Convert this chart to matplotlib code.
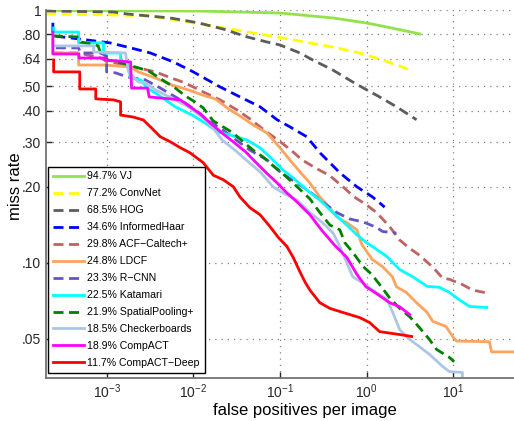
import matplotlib
matplotlib.use("Agg")
import matplotlib.pyplot as plt
from matplotlib.ticker import NullLocator

plt.rcParams['font.family'] = ['Liberation Sans', 'DejaVu Sans']
plt.rcParams['mathtext.fontset'] = 'custom'
plt.rcParams['mathtext.rm'] = 'Liberation Sans'
plt.rcParams['mathtext.it'] = 'Liberation Sans:italic'

# false positives per image / miss rate
vj_fppi = [2e-4, 1e-3, 0.012, 0.1, 0.41, 1.0, 1.7, 4.1]
vj_mr = [0.995, 0.993, 0.99, 0.973, 0.93, 0.888, 0.857, 0.804]

convnet_fppi = [2e-4, 1.45e-3, 3.2e-3, 0.012, 0.042, 0.108, 0.221, 0.452, 0.83, 1.41, 2.59, 3.38]
convnet_mr = [0.964, 0.955, 0.947, 0.88, 0.819, 0.775, 0.741, 0.708, 0.676, 0.640, 0.595, 0.569]

hog_fppi = [2e-4, 1.2e-3, 1.74e-3, 5.4e-3, 0.01, 0.013, 0.022, 0.042, 0.071, 0.1, 0.17,
            0.239, 0.406, 0.69, 1.0, 1.41, 2.21, 3.76]
hog_mr = [0.991, 0.982, 0.964, 0.93, 0.897, 0.88, 0.841, 0.782, 0.747, 0.727, 0.676,
          0.634, 0.579, 0.519, 0.483, 0.453, 0.414, 0.368]

ihaar_fppi = [2.4e-4, 2.4e-4, 3.9e-4, 6e-4, 1.1e-3, 1.9e-3, 3.2e-3, 5.9e-3, 0.01, 0.0204,
              0.0346, 0.0589, 0.0925, 0.13, 0.204, 0.29, 0.49, 0.767, 1.17, 1.61]
ihaar_mr = [0.89, 0.79, 0.775, 0.761, 0.741, 0.708, 0.676, 0.623, 0.569, 0.496,
            0.453, 0.414, 0.368, 0.345, 0.315, 0.272, 0.227, 0.2, 0.182, 0.166]

acf_fppi = [2.4e-4, 4.75e-4, 8.5e-4, 1.03e-3, 1.45e-3, 1.79e-3, 2.33e-3, 3.66e-3, 5.2e-3,
            7.5e-3, 0.01, 0.013, 0.0204, 0.032, 0.045, 0.068, 0.097, 0.134, 0.18, 0.27,
            0.376, 0.53, 0.72, 0.98, 1.30, 1.84, 2.4, 3.13, 4.08, 5.8, 7.5, 9.0, 12.7, 16.6, 24]
acf_mr = [0.676, 0.676, 0.646, 0.623, 0.612, 0.595, 0.59, 0.569, 0.543,
          0.519, 0.496, 0.474, 0.441, 0.402, 0.371, 0.332, 0.304, 0.279, 0.255, 0.235,
          0.221, 0.2, 0.182, 0.17, 0.158, 0.139, 0.123, 0.114, 0.107, 0.096, 0.087, 0.086,
          0.082, 0.078, 0.076]

ldcf_fppi = [2.4e-4, 4.75e-4, 4.75e-4, 9.2e-4, 1.89e-3, 2.33e-3, 3.66e-3, 5.7e-3, 8.8e-3,
             0.0127, 0.0179, 0.0266, 0.0346, 0.049, 0.071, 0.1, 0.13, 0.17, 0.221, 0.288,
             0.376, 0.45, 0.59, 0.77, 0.88, 1.16, 1.52, 1.98, 2.2, 2.87, 3.75, 4.9, 5.8,
             8.2, 10, 10.9, 26, 27.6, 50]
ldcf_mr = [0.676, 0.676, 0.606, 0.606, 0.595, 0.569, 0.538, 0.505, 0.483,
           0.461, 0.445, 0.402, 0.381, 0.351, 0.326, 0.285, 0.255, 0.229, 0.207, 0.182,
           0.165, 0.152, 0.144, 0.135, 0.118, 0.103, 0.0966, 0.088, 0.0804, 0.0763, 0.0695,
           0.064, 0.0586, 0.056, 0.0506, 0.049, 0.0487, 0.0444, 0.0444]

rcnn_fppi = [2.6e-4, 4.75e-4, 5e-4, 8.5e-4, 1e-3, 1e-3, 1.27e-3, 1.74e-3, 2.8e-3, 4.17e-3,
             7.1e-3, 0.0106, 0.0157, 0.022, 0.0346, 0.045, 0.071, 0.1, 0.221, 0.31, 0.45,
             0.64, 0.91, 1.30, 1.52, 2.2]
rcnn_mr = [0.708, 0.708, 0.676, 0.676, 0.658, 0.569, 0.564, 0.543, 0.529, 0.491,
           0.441, 0.402, 0.36, 0.335, 0.298, 0.279, 0.255, 0.229, 0.191, 0.174, 0.158,
           0.149, 0.145, 0.138, 0.133, 0.131]

katamari_fppi = [2.45e-4, 2.45e-4, 4.75e-4, 4.75e-4, 9.2e-4, 9.2e-4, 1.45e-3, 1.45e-3,
                 1.74e-3, 1.89e-3, 2.46e-3, 2.96e-3, 3.96e-3, 6.2e-3, 9.7e-3, 0.0137,
                 0.0194, 0.0266, 0.0415, 0.0588, 0.0767, 0.108, 0.141, 0.204, 0.288, 0.40,
                 0.59, 0.77, 1.0, 1.30, 1.70, 2.40, 3.4, 5.0, 6.9, 9.0, 11.7, 15.3, 24.2]
katamari_mr = [0.849, 0.818, 0.818, 0.741, 0.741, 0.676, 0.676, 0.623,
               0.617, 0.538, 0.529, 0.491, 0.461, 0.414, 0.384, 0.357,
               0.329, 0.320, 0.306, 0.285, 0.262, 0.233, 0.217, 0.194, 0.177, 0.159,
               0.141, 0.129, 0.12, 0.113, 0.106, 0.094, 0.088, 0.0806, 0.080, 0.0763,
               0.0714, 0.0672, 0.0665]

spp_fppi = [2.4e-4, 4.75e-4, 5e-4, 6.9e-4, 8e-4, 8.5e-4, 1.03e-3, 1.34e-3, 2.15e-3, 3.04e-3,
            4.4e-3, 6.2e-3, 8.1e-3, 0.01, 0.013, 0.017, 0.022, 0.0289, 0.0375, 0.049, 0.064,
            0.083, 0.108, 0.157, 0.221, 0.288, 0.376, 0.49, 0.56, 0.69, 0.91, 1.14, 1.41,
            1.84, 2.40, 3.13, 4.08, 5.3, 6.4, 9.0, 10.2]
spp_mr = [0.79, 0.782, 0.747, 0.734, 0.721, 0.676, 0.634, 0.623, 0.595, 0.574,
          0.529, 0.491, 0.457, 0.437, 0.41, 0.364, 0.345, 0.326, 0.301, 0.279, 0.262,
          0.242, 0.225, 0.2, 0.179, 0.158, 0.141, 0.135, 0.12, 0.11, 0.0966, 0.09, 0.082,
          0.0726, 0.066, 0.0612, 0.0553, 0.0497, 0.0454, 0.0422, 0.0406]

checker_fppi = [2.4e-4, 2.4e-4, 7.1e-4, 7.1e-4, 1.65e-3, 1.79e-3, 2.33e-3, 2.8e-3, 3.66e-3,
                4.77e-3, 6.2e-3, 8.8e-3, 0.0127, 0.0165, 0.0215, 0.0302, 0.043, 0.0588,
                0.083, 0.108, 0.157, 0.221, 0.31, 0.41, 0.49, 0.59, 0.69, 0.91, 1.30, 1.70,
                2.0, 2.40, 3.13, 4.08, 5.3, 7.5, 9.0, 12.7, 12.7]
checker_mr = [0.761, 0.721, 0.721, 0.682, 0.676, 0.569, 0.519, 0.515, 0.483,
              0.461, 0.441, 0.414, 0.377, 0.345, 0.306, 0.279, 0.251, 0.229,
              0.2, 0.189, 0.177, 0.158, 0.144, 0.131, 0.116, 0.10, 0.088, 0.083, 0.076,
              0.072, 0.0636, 0.0544, 0.0497, 0.0465, 0.0434, 0.0389, 0.0371, 0.0368, 0.0351]

compact_fppi = [2.4e-4, 2.4e-4, 4.8e-4, 4.8e-4, 9.7e-4, 9.7e-4, 1.89e-3, 1.94e-3, 2.96e-3,
                3.1e-3, 7.1e-3, 9.2e-3, 0.012, 0.0157, 0.0215, 0.0289, 0.040, 0.0518, 0.0676,
                0.090, 0.120, 0.160, 0.221, 0.30, 0.42, 0.59, 0.77, 0.98, 1.30, 1.84, 2.40, 3.13]
compact_mr = [0.818, 0.67, 0.67, 0.646, 0.646, 0.634, 0.623, 0.491, 0.491,
              0.453, 0.441, 0.414, 0.388, 0.357, 0.326, 0.301, 0.275, 0.251, 0.229,
              0.209, 0.189, 0.173, 0.155, 0.135, 0.118, 0.105, 0.090, 0.0804, 0.0755,
              0.0695, 0.067, 0.0624]

deep_fppi = [2.45e-4, 2.45e-4, 4.9e-4, 4.9e-4, 7.5e-4, 7.5e-4, 1.2e-3, 1.45e-3, 1.45e-3,
             2.04e-3, 2.66e-3, 3.2e-3, 4.17e-3, 5.44e-3, 7.1e-3, 9.2e-3, 0.013, 0.017, 0.0222,
             0.0289, 0.0346, 0.0451, 0.0588, 0.0767, 0.0956, 0.12, 0.142, 0.17, 0.194, 0.221,
             0.288, 0.376, 0.53, 0.83, 1.08, 1.41, 2.40, 3.3]
deep_mr = [0.634, 0.569, 0.569, 0.487, 0.487, 0.445, 0.441, 0.433, 0.384,
           0.377, 0.367, 0.345, 0.315, 0.301, 0.285, 0.272, 0.249, 0.222, 0.213,
           0.2, 0.182, 0.165, 0.155, 0.139, 0.126, 0.116, 0.105, 0.092, 0.084, 0.078,
           0.0695, 0.066, 0.0636, 0.0607, 0.058, 0.0534, 0.052, 0.0511]

labels = ["94.7% VJ", "77.2% ConvNet", "68.5% HOG", "34.6% InformedHaar",
          "29.8% ACF\u2212Caltech+", "24.8% LDCF", "23.3% R\u2212CNN", "22.5% Katamari",
          "21.9% SpatialPooling+", "18.5% Checkerboards", "18.9% CompACT",
          "11.7% CompACT\u2212Deep"]

yticks = [0.05, 0.1, 0.2, 0.3, 0.4, 0.5, 0.64, 0.8, 1]
ytick_labels = [".05", ".10", ".20", ".30", ".40", ".50", ".64", ".80", "1"]
xticks = [1e-3, 1e-2, 1e-1, 1, 10]
xtick_labels = ["$10^{-3}$", "$10^{-2}$", "$10^{-1}$", "$10^{0}$", "$10^{1}$"]

curves = [
    (vj_fppi, vj_mr, "#93e24a", "-"),
    (convnet_fppi, convnet_mr, "#ffff00", "--"),
    (hog_fppi, hog_mr, "#5c5c5c", "--"),
    (ihaar_fppi, ihaar_mr, "#0000ff", "--"),
    (acf_fppi, acf_mr, "#c06262", "--"),
    (ldcf_fppi, ldcf_mr, "#ffa45e", "-"),
    (rcnn_fppi, rcnn_mr, "#6a52c4", "--"),
    (katamari_fppi, katamari_mr, "#00ffff", "-"),
    (spp_fppi, spp_mr, "#008000", "--"),
    (checker_fppi, checker_mr, "#adc6e6", "-"),
    (compact_fppi, compact_mr, "#ff00ff", "-"),
    (deep_fppi, deep_mr, "#ff0000", "-"),
]

fig = plt.figure(figsize=(5.14, 4.21), dpi=100)
ax = fig.add_axes([46 / 514, 1 - 378 / 421, 468 / 514, 368 / 421])

for (fx, my, col, ls), lab in zip(curves, labels):
    if ls == "--":
        ax.plot(fx, my, color=col, lw=2.0, ls=(0, (3.6, 2.0)), label=lab)
    else:
        ax.plot(fx, my, color=col, lw=2.0, label=lab)

ax.set_xscale("log")
ax.set_yscale("log")
ax.set_xlim(2e-4, 50)
ax.set_ylim(0.035, 1)
ax.set_xticks(xticks)
ax.set_xticklabels(xtick_labels)
ax.set_yticks(yticks)
ax.set_yticklabels(ytick_labels)
ax.xaxis.set_minor_locator(NullLocator())
ax.yaxis.set_minor_locator(NullLocator())
ax.tick_params(direction="in", length=4, width=1, labelsize=10, colors="0.15")
ax.grid(True, which="major", ls=(0, (1, 4)), color="0.5", lw=0.9)

for side in ("top", "right"):
    ax.spines[side].set_visible(False)
for side in ("left", "bottom"):
    ax.spines[side].set_color("0.45")
    ax.spines[side].set_linewidth(1.3)

ax.set_xlabel("false positives per image", fontsize=12)
ax.set_ylabel("miss rate", fontsize=12)
ax.xaxis.set_label_coords(0.553, -0.067)
ax.yaxis.set_label_coords(-0.05, 0.52)

leg = ax.legend(loc="lower left", bbox_to_anchor=(0.004, 0.014), borderaxespad=0,
                fontsize=7.6, handlelength=2.95, handletextpad=0.35, labelspacing=0.66,
                borderpad=0.45, fancybox=False, framealpha=1, edgecolor="black")
leg.get_frame().set_linewidth(1.0)

fig.savefig("out.png", dpi=100)
